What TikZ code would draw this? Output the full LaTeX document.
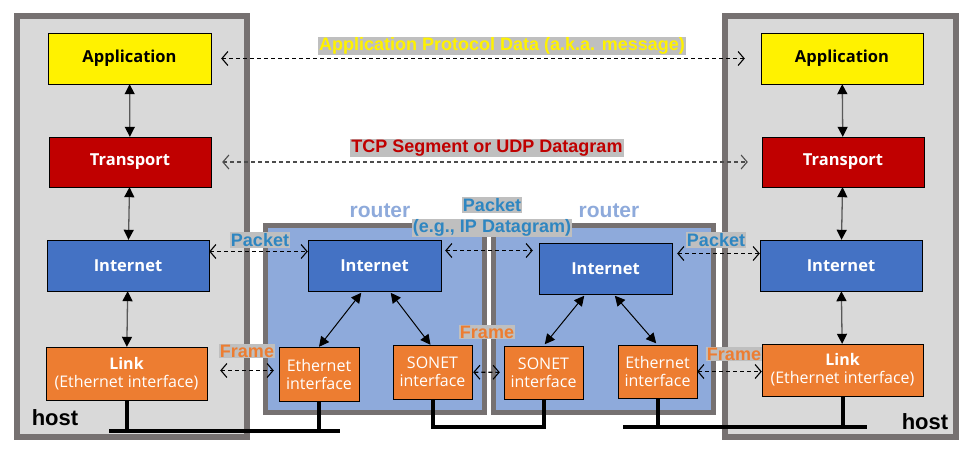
\documentclass[tikz,border=0pt]{standalone}
\usepackage{fontspec}
\setmainfont{Liberation Sans}
\newfontfamily\boxfont{Open Sans}
\usetikzlibrary{arrows.meta}
\definecolor{hostgray}{RGB}{217,217,217}
\definecolor{framegray}{RGB}{118,113,113}
\definecolor{routerblue}{RGB}{142,170,219}
\definecolor{inetblue}{RGB}{68,114,196}
\definecolor{tpred}{RGB}{192,0,0}
\definecolor{linkorange}{RGB}{237,125,49}
\definecolor{lblgray}{RGB}{191,191,191}
\definecolor{pktblue}{RGB}{46,134,193}
\tikzset{
  HostStyle/.style = { rectangle, draw = framegray, fill = hostgray,
                       line width = 6pt, inner sep = 0pt },
  RouterStyle/.style = { rectangle, draw = framegray, fill = routerblue,
                         line width = 5pt, inner sep = 0pt },
  LayerStyle/.style = { rectangle, draw = black, thin, inner sep = 0pt,
                        font = \boxfont\fontsize{16.5}{18}\selectfont\bfseries },
  IfaceStyle/.style = { rectangle, draw = black, thin, inner sep = 0pt,
                        fill = linkorange, text = white, align = center,
                        font = \boxfont\fontsize{16}{18}\selectfont },
  LabelStyle/.style = { rectangle, fill = lblgray, inner sep = 1pt,
                        font = \fontsize{18}{19}\selectfont\bfseries },
  EdgeStyle/.style = { {Triangle[length=10pt,width=10pt,color=black]}-{Triangle[length=10pt,width=10pt,color=black]},
                       line width = 1.3pt, draw = black!65 },
  DashStyle/.style = { {Straight Barb[length=6pt,width=14pt]}-{Straight Barb[length=6pt,width=14pt]},
                       line width = 1.1pt, dash pattern = on 4pt off 3pt },
  WireStyle/.style = { line width = 4pt, draw = black }
}
\begin{document}
\begin{tikzpicture}[x=1pt,y=-1pt]
  \useasboundingbox (0,0) rectangle (965,448);
  % hosts and routers
  \node[HostStyle, minimum width=230, minimum height=421](hostL) at (132,226.5){};
  \node[HostStyle, minimum width=231, minimum height=421](hostR) at (840.5,226.5){};
  \node[RouterStyle, minimum width=219, minimum height=187](routA) at (375,319){};
  \node[RouterStyle, minimum width=220, minimum height=187](routB) at (603.5,319){};
  \node[font=\fontsize{22}{24}\selectfont\bfseries](hostLlbl) at (55,418){host};
  \node[font=\fontsize{22}{24}\selectfont\bfseries](hostRlbl) at (925,422){host};
  \node[font=\fontsize{21}{23}\selectfont\bfseries, text=routerblue](routAlbl) at (380,211){router};
  \node[font=\fontsize{21}{23}\selectfont\bfseries, text=routerblue](routBlbl) at (609,211){router};
  % host stacks
  \node[LayerStyle, fill=yellow, minimum width=163, minimum height=51](appL) at (129.5,58.5){Application};
  \node[LayerStyle, fill=tpred, text=white, minimum width=162, minimum height=50](tpL) at (130,162){Transport};
  \node[LayerStyle, fill=inetblue, text=white, minimum width=162, minimum height=51](inetL) at (128,265.5){Internet};
  \node[IfaceStyle, minimum width=161, minimum height=53](linkL) at (126.5,373.5){\textbf{Link}\\(Ethernet interface)};
  \node[LayerStyle, fill=yellow, minimum width=162, minimum height=51](appR) at (842,58.5){Application};
  \node[LayerStyle, fill=tpred, text=white, minimum width=162, minimum height=50](tpR) at (843,162){Transport};
  \node[LayerStyle, fill=inetblue, text=white, minimum width=162, minimum height=51](inetR) at (841,265.5){Internet};
  \node[IfaceStyle, minimum width=161, minimum height=52](linkR) at (842.5,370){\textbf{Link}\\(Ethernet interface)};
  % router stacks
  \node[LayerStyle, fill=inetblue, text=white, minimum width=133, minimum height=51](inetA) at (374.5,265.5){Internet};
  \node[IfaceStyle, minimum width=80, minimum height=54](ethA) at (319,374){Ethernet\\interface};
  \node[IfaceStyle, minimum width=79, minimum height=54](sonA) at (432.5,372){SONET\\interface};
  \node[LayerStyle, fill=inetblue, text=white, minimum width=133, minimum height=51](inetB) at (605.5,268.5){Internet};
  \node[IfaceStyle, minimum width=79, minimum height=53](sonB) at (543.5,372.5){SONET\\interface};
  \node[IfaceStyle, minimum width=79, minimum height=53](ethB) at (657.5,371.5){Ethernet\\interface};
  % vertical edges
  \draw[EdgeStyle] (appL) -- (tpL);
  \draw[EdgeStyle] (tpL) -- (inetL);
  \draw[EdgeStyle] (inetL) -- (linkL);
  \draw[EdgeStyle] (appR) -- (tpR);
  \draw[EdgeStyle] (tpR) -- (inetR);
  \draw[EdgeStyle] (inetR) -- (linkR);
  \draw[EdgeStyle, draw=black, line width=1pt, shorten <=2pt] ([xshift=-12pt]inetA.south) -- (ethA.north);
  \draw[EdgeStyle, draw=black, line width=1pt, shorten <=2pt] ([xshift=15pt]inetA.south) -- ([xshift=-2pt]sonA.north);
  \draw[EdgeStyle, draw=black, line width=1pt, shorten <=2pt, shorten >=2pt] ([xshift=-20pt]inetB.south) -- (sonB.north);
  \draw[EdgeStyle, draw=black, line width=1pt, shorten <=2pt, shorten >=2pt] ([xshift=8pt]inetB.south) -- (ethB.north);
  % peer exchanges
  \draw[DashStyle, shorten <=10pt, shorten >=16pt] (appL) -- (appR);
  \draw[DashStyle, draw=black!70, shorten <=11pt, shorten >=14pt] (tpL) -- (tpR);
  \draw[DashStyle] ([yshift=14pt]inetL.east) -- ([yshift=14pt]inetL.east -| inetA.west);
  \draw[DashStyle, shorten <=4pt, shorten >=6pt] ([yshift=15pt]inetA.east) -- ([yshift=15pt]inetA.east -| inetB.west);
  \draw[DashStyle, shorten <=5pt] ([yshift=15pt]inetB.east) -- ([yshift=15pt]inetB.east -| inetR.west);
  \draw[DashStyle, shorten <=13pt, shorten >=5pt] ([yshift=3pt]linkL.east) -- ([yshift=3pt]linkL.east -| ethA.west);
  \draw[DashStyle, shorten <=1pt, shorten >=4pt] (sonA) -- (sonB);
  \draw[DashStyle] (ethB.east) -- (ethB.east -| linkR.west);
  % labels
  \node[LabelStyle, text=yellow](appmsg) at (502,46){Application Protocol Data (a.k.a. message)};
  \node[LabelStyle, text=tpred](tpmsg) at (487,148){TCP Segment or UDP Datagram};
  \node[LabelStyle, text=pktblue](pktL) at (260,240){Packet};
  \node[LabelStyle, text=pktblue](pktR) at (716,240){Packet};
  \node[LabelStyle, text=pktblue](pktAB) at (492,205){Packet};
  \node[LabelStyle, text=pktblue](dgramAB) at (492,228){(e.g., IP Datagram)};
  \node[LabelStyle, text=linkorange](frmL) at (247,351){Frame};
  \node[LabelStyle, text=linkorange](frmAB) at (487,332){Frame};
  \node[LabelStyle, text=linkorange](frmR) at (734,354){Frame};
  % wires
  \coordinate (busL1) at (109,431);
  \coordinate (busL2) at (340,431);
  \coordinate (busR1) at (623,427);
  \coordinate (busR2) at (867,427);
  \draw[WireStyle] (busL1) -- (busL2);
  \draw[WireStyle] (linkL.south) -- (linkL.south |- busL1);
  \draw[WireStyle] (ethA.south) -- (ethA.south |- busL1);
  \draw[WireStyle] (sonA.south) -- ++(0,28) -| (sonB.south);
  \draw[WireStyle] (busR1) -- (busR2);
  \draw[WireStyle] (ethB.south) -- (ethB.south |- busR1);
  \draw[WireStyle] (linkR.south) -- (linkR.south |- busR1);
\end{tikzpicture}
\end{document}
